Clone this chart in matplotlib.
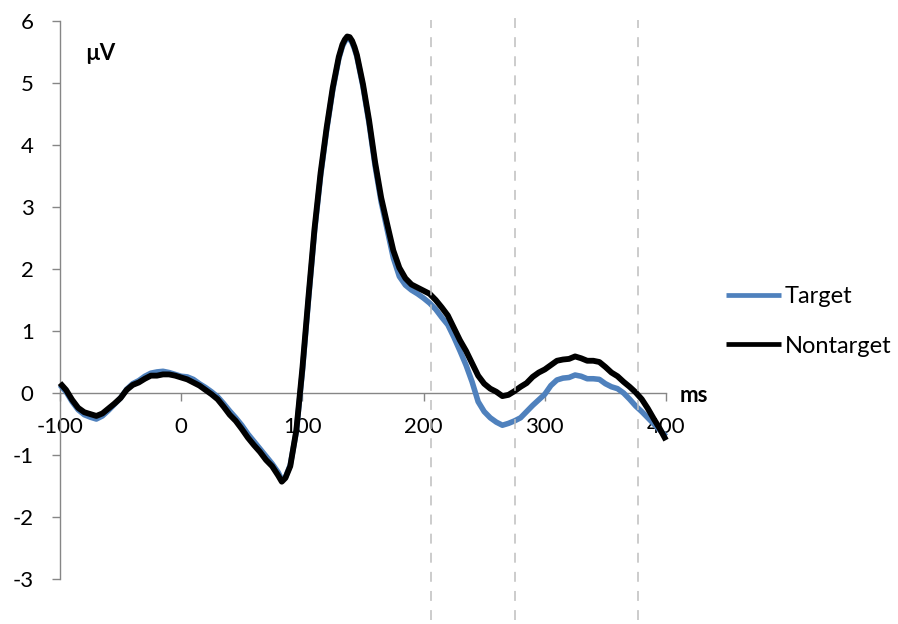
import matplotlib
matplotlib.use("Agg")
import matplotlib.pyplot as plt
from matplotlib.lines import Line2D
import matplotlib.transforms as mtransforms

plt.rcParams['font.family'] = ['Lato', 'DejaVu Sans']

# Time axis (ms) and grand-average ERP amplitudes (µV)
time_nt = [-100, -95, -90, -85, -80, -75, -70, -65, -60, -55, -50, -45, -40, -35, -30,
           -25, -20, -15, -10, -5, 0, 5, 10, 15, 20, 25, 30, 35, 40, 45, 50, 55, 60, 65,
           70, 75, 80, 83, 86, 90, 95, 100, 105, 110, 115, 120, 125, 130, 133, 135, 137,
           139, 141, 143, 145, 150, 155, 160, 165, 170, 175, 180, 185, 190, 195, 200, 205,
           210, 215, 220, 225, 230, 235, 240, 245, 250, 255, 260, 265, 270, 275, 280, 285,
           290, 295, 300, 305, 310, 315, 320, 325, 330, 335, 340, 345, 350, 355, 360, 365,
           370, 375, 380, 385, 390, 395, 400]
nontarget = [0.16, 0.05, -0.11, -0.24, -0.31, -0.34, -0.37, -0.33, -0.25, -0.17, -0.08,
             0.05, 0.13, 0.17, 0.23, 0.28, 0.28, 0.30, 0.30, 0.28, 0.25, 0.22, 0.17, 0.12,
             0.05, -0.02, -0.10, -0.22, -0.35, -0.45, -0.58, -0.72, -0.84, -0.95, -1.08,
             -1.18, -1.33, -1.43, -1.37, -1.18, -0.60, 0.40, 1.55, 2.65, 3.55, 4.28, 4.92,
             5.42, 5.62, 5.70, 5.75, 5.74, 5.68, 5.58, 5.45, 4.98, 4.40, 3.72, 3.15, 2.72,
             2.30, 2.02, 1.85, 1.75, 1.70, 1.65, 1.60, 1.50, 1.38, 1.25, 1.05, 0.85, 0.68,
             0.48, 0.28, 0.15, 0.07, 0.02, -0.05, -0.03, 0.03, 0.10, 0.16, 0.26, 0.33, 0.38,
             0.45, 0.52, 0.54, 0.55, 0.59, 0.56, 0.52, 0.52, 0.50, 0.42, 0.33, 0.27, 0.18,
             0.10, 0.01, -0.10, -0.25, -0.42, -0.58, -0.76]

time_t = time_nt
target = [0.13, 0.02, -0.14, -0.27, -0.35, -0.39, -0.42, -0.37, -0.28, -0.18, -0.08,
          0.06, 0.15, 0.20, 0.27, 0.32, 0.34, 0.35, 0.33, 0.30, 0.27, 0.26, 0.22, 0.15,
          0.09, 0.02, -0.06, -0.17, -0.29, -0.40, -0.52, -0.66, -0.78, -0.90, -1.02,
          -1.14, -1.28, -1.40, -1.36, -1.16, -0.62, 0.35, 1.50, 2.60, 3.50, 4.24, 4.88,
          5.39, 5.59, 5.67, 5.72, 5.71, 5.65, 5.55, 5.42, 4.94, 4.35, 3.66, 3.08, 2.63,
          2.18, 1.88, 1.74, 1.66, 1.60, 1.53, 1.45, 1.35, 1.22, 1.10, 0.90, 0.68, 0.45,
          0.18, -0.14, -0.30, -0.40, -0.47, -0.52, -0.49, -0.45, -0.40, -0.30, -0.20,
          -0.11, -0.02, 0.12, 0.21, 0.24, 0.25, 0.29, 0.27, 0.23, 0.23, 0.22, 0.15, 0.10,
          0.07, 0.00, -0.10, -0.21, -0.30, -0.40, -0.50, -0.60, -0.70]

# Analysis window boundaries (ms)
window_marks = [206, 275, 377]

x_ticks = [-100, 0, 100, 200, 300, 400]
y_ticks = [-3, -2, -1, 0, 1, 2, 3, 4, 5, 6]

series_names = ["Target", "Nontarget"]
series_colors = ["#4F81BD", "#000000"]

axis_gray = "#868686"
fs = 16

fig = plt.figure(figsize=(8.98, 6.24), dpi=100)
ax = fig.add_axes([60 / 898, 1 - 579 / 624, (666 - 60) / 898, (579 - 21) / 624])

ax.plot(time_t, target, color=series_colors[0], lw=4.0, zorder=3, clip_on=False,
        solid_joinstyle="round", solid_capstyle="butt", label=series_names[0])
ax.plot(time_nt, nontarget, color=series_colors[1], lw=4.2, zorder=3.1, clip_on=False,
        solid_joinstyle="round", solid_capstyle="butt", label=series_names[1])

ax.set_xlim(-100, 400)
ax.set_ylim(-3, 6)
ax.set_xticks(x_ticks)
ax.set_yticks(y_ticks)
ax.set_xticklabels([str(v) for v in x_ticks])
ax.set_yticklabels([str(v) for v in y_ticks])

for side in ("top", "right"):
    ax.spines[side].set_visible(False)
ax.spines["bottom"].set_position(("data", 0))
ax.spines["bottom"].set_color(axis_gray)
ax.spines["left"].set_color(axis_gray)
ax.spines["bottom"].set_linewidth(1.0)
ax.spines["left"].set_linewidth(1.0)

ax.tick_params(axis="x", direction="out", length=6, width=1.0, color=axis_gray,
               labelsize=fs, pad=11)
ax.tick_params(axis="y", direction="out", length=6, width=1.0, color=axis_gray,
               labelsize=fs, pad=13)

ax.text(85 / 898, 1 - 53 / 624, "µV", transform=fig.transFigure, fontsize=fs,
        fontweight="bold", ha="left", va="center")
ax.text(680 / 898, 1 - 395 / 624, "ms", transform=fig.transFigure, fontsize=fs,
        fontweight="bold", ha="left", va="center")

# Dashed window markers spanning the full figure height
trans = mtransforms.blended_transform_factory(ax.transData, fig.transFigure)
tops = [1 - 20 / 624, 1 - 15 / 624, 1 - 20 / 624]
for xm, top in zip(window_marks, tops):
    ln = Line2D([xm, xm], [1 - 620 / 624, top], transform=trans, color="#BFBFBF",
                lw=1.1, linestyle=(0, (6.5, 6.0)), zorder=5, clip_on=False)
    fig.add_artist(ln)

leg = fig.legend(handles=ax.get_lines(), labels=series_names, loc="center left",
                 bbox_to_anchor=(726 / 898, 1 - 321.5 / 624), frameon=False,
                 fontsize=17, handlelength=2.35, handletextpad=0.15,
                 labelspacing=1.2, borderpad=0, borderaxespad=0)
for h in leg.legend_handles:
    h.set_linewidth(3.4)

fig.savefig("out.png", dpi=100)
